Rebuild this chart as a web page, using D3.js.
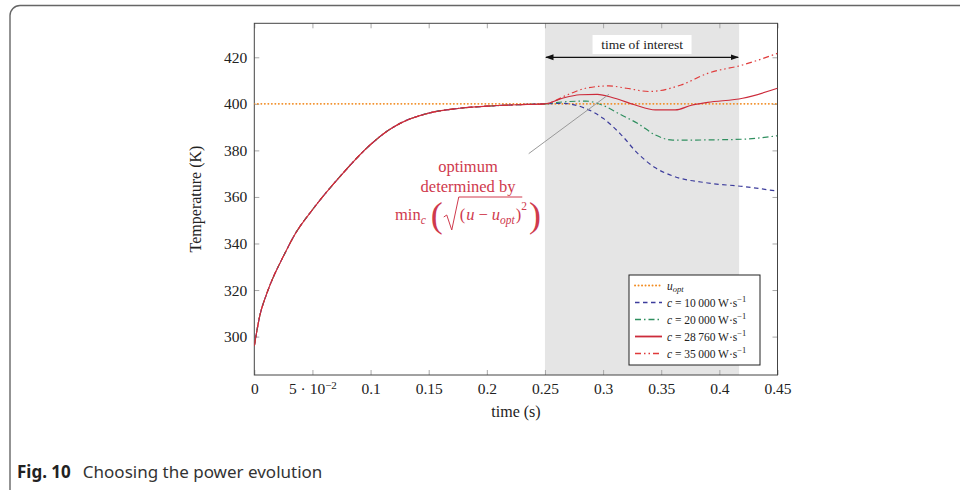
<!DOCTYPE html>
<html>
<head>
<meta charset="utf-8">
<title>Choosing the power evolution</title>
<script src="https://cdn.jsdelivr.net/npm/d3@7"></script>
<style>
  body { margin: 0; background: #fff; }
  .tick line { stroke: #a8a8a8; }
  .tick text { font-family: "Liberation Serif", serif; font-size: 15.5px; fill: #222; }
  .lab { font-family: "Liberation Serif", serif; font-size: 16px; fill: #222; }
  .legend text { font-family: "Liberation Serif", serif; font-size: 11.5px; fill: #222; }
  .note text { font-family: "Liberation Serif", serif; fill: #cf3a4d; }
</style>
</head>
<body>
<script>
// common heating phase (all runs identical up to 0.25 s)
var baseTime = [0, 0.005, 0.01, 0.015, 0.025, 0.035, 0.05, 0.075, 0.1, 0.115, 0.125, 0.15, 0.175, 0.2, 0.225, 0.25];
var baseTemp = [296, 309.5, 317.5, 324, 334.5, 344, 354.5, 369.5, 382.5, 388.5, 391.5, 396, 398, 399, 399.6, 400];

// behaviour after 0.25 s for each constant c
var time10000 = [0.25, 0.265, 0.285, 0.3, 0.315, 0.33, 0.345, 0.36, 0.39, 0.42, 0.45];
var temp10000 = [400, 400.2, 398, 393.8, 387, 378.6, 372.5, 369, 366, 364.5, 362.5];
var time20000 = [0.25, 0.265, 0.285, 0.3, 0.315, 0.33, 0.345, 0.36, 0.39, 0.42, 0.45];
var temp20000 = [400, 400.8, 401.2, 399.3, 395.4, 391.5, 386.6, 384.4, 384.5, 384.8, 386.3];
var time28760 = [0.25, 0.265, 0.28, 0.295, 0.31, 0.327, 0.345, 0.362, 0.376, 0.39, 0.42, 0.45];
var temp28760 = [400, 402.4, 403.9, 404.1, 402.4, 399.6, 397.4, 397.4, 399.4, 400.6, 402.4, 406.7];
var time35000 = [0.25, 0.27, 0.285, 0.305, 0.32, 0.34, 0.367, 0.39, 0.42, 0.45];
var temp35000 = [400, 404, 406.7, 407.7, 406.7, 405.3, 408.1, 413.1, 416.7, 421.7];

var uOpt = 400;
var interest = [0.25, 0.417];
var pointer = [[0.236, 378.6], [0.305, 404.1]];

var xTicks = [0, 0.05, 0.1, 0.15, 0.2, 0.25, 0.3, 0.35, 0.4, 0.45];
var xLabels = ["0", "5 · 10", "0.1", "0.15", "0.2", "0.25", "0.3", "0.35", "0.4", "0.45"];
var yTicks = [300, 320, 340, 360, 380, 400, 420];

var width = 960, height = 492;
var svg = d3.select("body").append("svg")
  .attr("width", width)
  .attr("height", height);

// card outline
svg.append("path")
  .attr("d", "M960,5.5 L20,5.5 A10,10 0 0 0 10,15.5 L10,490")
  .attr("fill", "none")
  .attr("stroke", "#666")
  .attr("stroke-width", 1.4);

var pl = 254.3, pr = 777.5, pt = 23.3, pb = 375;
var x = d3.scaleLinear().domain([0, 0.45]).range([pl, pr]);
var y = d3.scaleLinear().domain([283.5, 434.6]).range([pb, pt]);

// time of interest band
svg.append("rect")
  .attr("x", x(interest[0]))
  .attr("y", pt)
  .attr("width", x(interest[1]) - x(interest[0]))
  .attr("height", pb - pt)
  .attr("fill", "#e5e5e5");

// axes, ticks inside
var gx = svg.append("g")
  .attr("transform", "translate(0," + pb + ")")
  .call(d3.axisBottom(x).tickValues(xTicks).tickSizeInner(-5).tickSizeOuter(0).tickPadding(8)
    .tickFormat(function(d, i) { return xLabels[i]; }));
gx.selectAll(".tick text").filter(function(d, i) { return i === 1; })
  .append("tspan").attr("dy", "-0.5em").style("font-size", "11px").text("−2");
svg.append("g")
  .attr("transform", "translate(0," + pt + ")")
  .call(d3.axisTop(x).tickValues(xTicks).tickSizeInner(-5).tickSizeOuter(0).tickFormat(""));
svg.append("g")
  .attr("transform", "translate(" + pl + ",0)")
  .call(d3.axisLeft(y).tickValues(yTicks).tickSizeInner(-5).tickSizeOuter(0).tickPadding(7).tickFormat(d3.format("d")));
svg.append("g")
  .attr("transform", "translate(" + pr + ",0)")
  .call(d3.axisRight(y).tickValues(yTicks).tickSizeInner(-5).tickSizeOuter(0).tickFormat(""));
svg.selectAll(".domain").remove();

svg.append("rect")
  .attr("x", pl).attr("y", pt)
  .attr("width", pr - pl).attr("height", pb - pt)
  .attr("fill", "none").attr("stroke", "#444").attr("stroke-width", 1);

// curves
svg.append("clipPath").attr("id", "plot")
  .append("rect").attr("x", pl).attr("y", pt).attr("width", pr - pl).attr("height", pb - pt);

var line = d3.line()
  .x(function(d) { return x(d[0]); })
  .y(function(d) { return y(d[1]); })
  .curve(d3.curveMonotoneX);

function join(ts, vs) {
  var pts = baseTime.map(function(t, i) { return [t, baseTemp[i]]; });
  ts.forEach(function(t, i) { if (i > 0) pts.push([t, vs[i]]); });
  return pts;
}

var series = [
  { label: "10 000", pts: join(time10000, temp10000), color: "#3c3c9c", dash: "4.5,3.5" },
  { label: "20 000", pts: join(time20000, temp20000), color: "#2f8f5f", dash: "6,3,1.5,3" },
  { label: "35 000", pts: join(time35000, temp35000), color: "#e03a3a", dash: "6,3,1.5,3,1.5,3" },
  { label: "28 760", pts: join(time28760, temp28760), color: "#cc2b3b", dash: null }
];

var curves = svg.append("g").attr("clip-path", "url(#plot)");
curves.append("path")
  .attr("d", line([[0, uOpt], [0.45, uOpt]]))
  .attr("fill", "none").attr("stroke", "#f28c22").attr("stroke-width", 1.9)
  .attr("stroke-dasharray", "0.1,3.4").attr("stroke-linecap", "round");
series.forEach(function(s) {
  curves.append("path")
    .attr("d", line(s.pts))
    .attr("fill", "none")
    .attr("stroke", s.color)
    .attr("stroke-width", 1.2)
    .attr("stroke-dasharray", s.dash);
});

// pointer line to the optimum
svg.append("path")
  .attr("d", d3.line().x(function(d) { return x(d[0]); }).y(function(d) { return y(d[1]); })(pointer))
  .attr("stroke", "#999").attr("stroke-width", 1).attr("fill", "none");

// time of interest arrow
var defs = svg.append("defs");
defs.append("marker").attr("id", "ah").attr("viewBox", "0 0 10 10").attr("refX", 9).attr("refY", 5)
  .attr("markerWidth", 7).attr("markerHeight", 7).attr("orient", "auto-start-reverse")
  .append("path").attr("d", "M0,1.5 L10,5 L0,8.5 z").attr("fill", "#111");
svg.append("line")
  .attr("x1", x(interest[0]) + 1).attr("x2", x(interest[1]) - 1)
  .attr("y1", y(420)).attr("y2", y(420))
  .attr("stroke", "#111").attr("stroke-width", 1.2)
  .attr("marker-start", "url(#ah)").attr("marker-end", "url(#ah)");
var midX = (x(interest[0]) + x(interest[1])) / 2;
svg.append("rect").attr("x", midX - 49.5).attr("y", 35).attr("width", 99).attr("height", 19).attr("fill", "#fff");
svg.append("text").attr("class", "lab").attr("x", midX).attr("y", 49)
  .attr("text-anchor", "middle").style("font-size", "13.5px").text("time of interest");

// axis labels
svg.append("text").attr("class", "lab")
  .attr("transform", "translate(201,199) rotate(-90)")
  .attr("text-anchor", "middle").text("Temperature (K)");
svg.append("text").attr("class", "lab")
  .attr("x", 516).attr("y", 417).attr("text-anchor", "middle").text("time (s)");

// annotation
var note = svg.append("g").attr("class", "note");
note.append("text").attr("x", 468).attr("y", 172).attr("text-anchor", "middle").style("font-size", "16.5px").text("optimum");
note.append("text").attr("x", 468).attr("y", 192).attr("text-anchor", "middle").style("font-size", "16.5px").text("determined by");

var formula = note.append("g");
var pieces = [
  { text: "min", size: 16.5 },
  { text: "c", size: 11.5, italic: true, dy: 4, gap: 5 },
  { text: "(", size: 36, dy: 7, gap: 1, light: true },
  { rad: "start", w: 16 },
  { text: "(", size: 16.5, gap: 1 },
  { text: "u", size: 16.5, italic: true, gap: 4 },
  { text: "−", size: 16.5, gap: 4 },
  { text: "u", size: 16.5, italic: true },
  { text: "opt", size: 11.5, italic: true, dy: 4, gap: 1 },
  { text: ")", size: 16.5 },
  { rad: "end", w: 0 },
  { text: "2", size: 11.5, dy: -10, gap: 2 },
  { text: ")", size: 36, dy: 7, light: true }
];
var fx = 0, fBase = 220, radStart = 0;
pieces.forEach(function(p) {
  if (p.rad === "start") { radStart = fx; fx += p.w; return; }
  if (p.rad === "end") {
    formula.append("path")
      .attr("d", "M" + radStart + "," + (fBase - 3) + " l3,-2 l5,15 l7,-33 L" + (fx + 1) + "," + (fBase - 23))
      .attr("fill", "none").attr("stroke", "#cf3a4d").attr("stroke-width", 1);
    return;
  }
  var t = formula.append("text").attr("x", fx).attr("y", fBase + (p.dy || 0))
    .style("font-size", p.size + "px").style("font-style", p.italic ? "italic" : "normal")
    .style("font-weight", p.light ? "300" : null)
    .text(p.text);
  fx += t.node().getComputedTextLength() + (p.gap || 0);
});
formula.attr("transform", "translate(" + (468 - fx / 2) + ",0)");

// legend
var lg = svg.append("g").attr("class", "legend");
lg.append("rect").attr("x", 629).attr("y", 275).attr("width", 131).attr("height", 90)
  .attr("fill", "#fff").attr("stroke", "#222").attr("stroke-width", 1);
var legendRows = [
  { color: "#f28c22", dash: "0.1,3.4", cap: "round", name: "uopt", w: 1.9 },
  series[0], series[1], series[3], series[2]
];
legendRows.forEach(function(s, i) {
  var ly = 285.5 + i * 17;
  lg.append("line").attr("x1", 635).attr("x2", 662).attr("y1", ly).attr("y2", ly)
    .attr("stroke", s.color).attr("stroke-width", s.w || (s.dash ? 1.4 : 1.8))
    .attr("stroke-dasharray", s.dash).attr("stroke-linecap", s.cap || "butt");
  var t = lg.append("text").attr("x", 667).attr("y", ly + 4);
  if (s.name === "uopt") {
    t.append("tspan").style("font-style", "italic").text("u");
    t.append("tspan").style("font-style", "italic").style("font-size", "8.5px").attr("dy", 2.5).text("opt");
  } else {
    t.append("tspan").style("font-style", "italic").text("c");
    t.append("tspan").text(" = " + s.label.replace(" ", "\u2009") + " W·s");
    t.append("tspan").style("font-size", "8.5px").attr("dy", -5).text("−1");
  }
});

// caption
var cap = svg.append("text").attr("x", 17).attr("y", 478)
  .style("font-family", "'Noto Sans', 'Open Sans', sans-serif").style("font-size", "17px").attr("fill", "#222");
cap.append("tspan").style("font-weight", "bold").text("Fig. 10");
cap.append("tspan").attr("dx", 12).attr("fill", "#333").text("Choosing the power evolution");
</script>
</body>
</html>
